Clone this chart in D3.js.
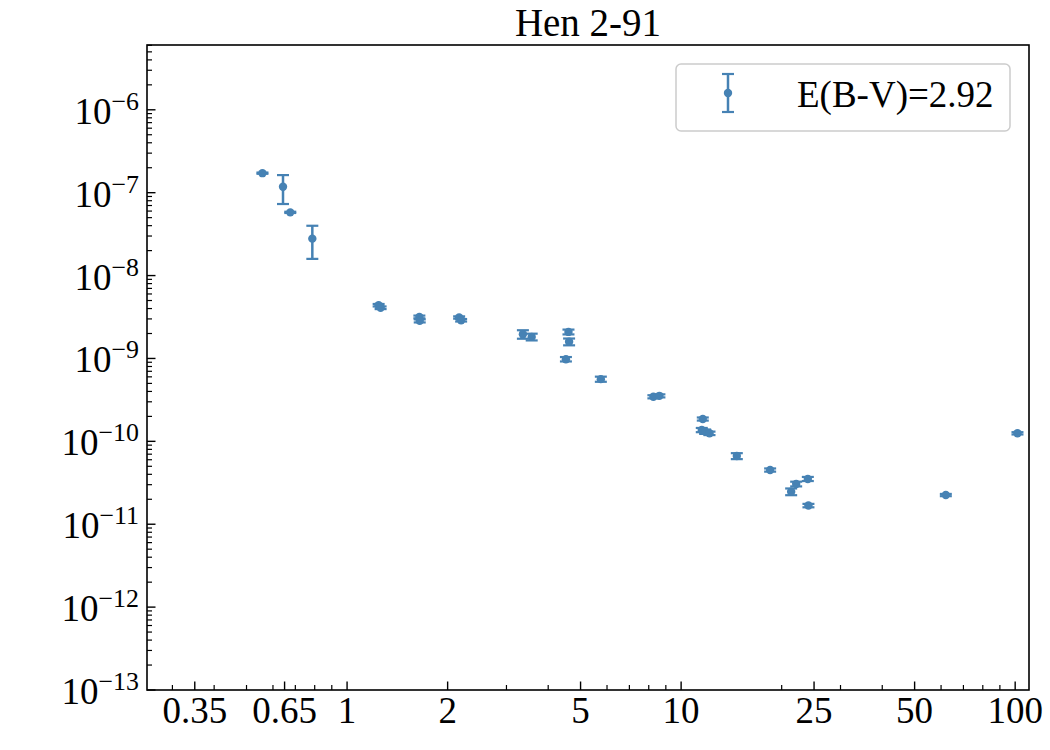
<!DOCTYPE html>
<html>
<head>
<meta charset="utf-8">
<script src="https://cdn.jsdelivr.net/npm/d3@7"></script>
<style>
  body { margin: 0; background: #fff; }
  text { font-family: 'Liberation Serif', 'DejaVu Serif', serif; fill: #000; }
</style>
</head>
<body>
<svg id="chart"></svg>
<script>
    // wavelength in micron, flux with 1-sigma errors
    var wavelength = [0.558, 0.643, 0.676, 0.787, 1.243, 1.26, 1.646, 1.65, 2.165, 2.195,
        3.36, 3.57, 4.60, 4.62, 4.52, 5.75, 8.26, 8.61, 11.61, 11.53,
        11.8, 12.16, 14.68, 18.47, 23.95, 22.1, 21.35, 24.05, 62.0, 101.6];
    var flux = [1.72e-7, 1.18e-7, 5.79e-8, 2.79e-8, 4.39e-9, 4.09e-9, 3.17e-9, 2.84e-9, 3.12e-9, 2.89e-9,
        1.96e-9, 1.82e-9, 2.09e-9, 1.59e-9, 9.8e-10, 5.63e-10, 3.45e-10, 3.54e-10, 1.86e-10, 1.37e-10,
        1.31e-10, 1.25e-10, 6.65e-11, 4.51e-11, 3.52e-11, 3.06e-11, 2.47e-11, 1.68e-11, 2.25e-11, 1.25e-10];
    var fluxErr = [0.03e-7, 4.5e-8, 0.1e-8, 1.2e-8, 0.15e-9, 0.15e-9, 0.12e-9, 0.12e-9, 0.1e-9, 0.1e-9,
        0.23e-9, 0.17e-9, 0.14e-9, 0.15e-9, 0.6e-10, 0.4e-10, 0.15e-10, 0.15e-10, 0.08e-10, 0.08e-10,
        0.08e-10, 0.06e-10, 0.55e-11, 0.2e-11, 0.2e-11, 0.2e-11, 0.23e-11, 0.08e-11, 0.07e-11, 0.04e-10];

    var xTickValues = [0.35, 0.65, 1, 2, 5, 10, 25, 50, 100];
    var xTickLabels = ['0.35', '0.65', '1', '2', '5', '10', '25', '50', '100'];
    var yTickExponents = [-13, -12, -11, -10, -9, -8, -7, -6];

    var title = 'Hen 2-91';
    var legendLabel = 'E(B-V)=2.92';

    var width = 1050, height = 750;
    var plotLeft = 147, plotRight = 1029, plotTop = 45, plotBottom = 690;
    var color = '#4682b4';
    var fontSize = 37;
    var capHalf = 6;

    var svg = d3.select('#chart')
        .attr('width', width)
        .attr('height', height);

    var scaleX = d3.scaleLog()
        .domain([0.2518, 110])
        .range([plotLeft, plotRight]);

    var scaleY = d3.scaleLog()
        .domain([1e-13, 6.05e-6])
        .range([plotBottom, plotTop]);

    // minor ticks
    var xMinor = [];
    [0.1, 1, 10, 100].forEach(function (base) {
        for (var k = 1; k < 10; k++) {
            var v = base * k;
            if (v >= scaleX.domain()[0] && v <= scaleX.domain()[1] && xTickValues.indexOf(+v.toPrecision(6)) < 0) xMinor.push(v);
        }
    });
    var yMinor = [];
    for (var e = -13; e <= -6; e++) {
        for (var k = 2; k < 10; k++) {
            var v = k * Math.pow(10, e);
            if (v <= scaleY.domain()[1]) yMinor.push(v);
        }
    }

    var axes = svg.append('g').attr('class', 'axes');

    axes.selectAll('line.xminor')
        .data(xMinor)
        .enter().append('line')
        .attr('x1', function (d) { return scaleX(d); })
        .attr('x2', function (d) { return scaleX(d); })
        .attr('y1', plotBottom)
        .attr('y2', plotBottom - 5)
        .attr('stroke', '#000')
        .attr('stroke-width', 1.2);

    axes.selectAll('line.xmajor')
        .data(xTickValues)
        .enter().append('line')
        .attr('x1', function (d) { return scaleX(d); })
        .attr('x2', function (d) { return scaleX(d); })
        .attr('y1', plotBottom)
        .attr('y2', plotBottom - 8.5)
        .attr('stroke', '#000')
        .attr('stroke-width', 1.4);

    axes.selectAll('text.xlabel')
        .data(xTickValues)
        .enter().append('text')
        .attr('x', function (d) { return scaleX(d); })
        .attr('y', plotBottom + 33)
        .attr('text-anchor', 'middle')
        .attr('font-size', fontSize)
        .text(function (d, i) { return xTickLabels[i]; });

    axes.selectAll('line.yminor')
        .data(yMinor)
        .enter().append('line')
        .attr('x1', plotLeft)
        .attr('x2', plotLeft + 5)
        .attr('y1', function (d) { return scaleY(d); })
        .attr('y2', function (d) { return scaleY(d); })
        .attr('stroke', '#000')
        .attr('stroke-width', 1.2);

    axes.selectAll('line.ymajor')
        .data(yTickExponents)
        .enter().append('line')
        .attr('x1', plotLeft)
        .attr('x2', plotLeft + 8.5)
        .attr('y1', function (d) { return scaleY(Math.pow(10, d)); })
        .attr('y2', function (d) { return scaleY(Math.pow(10, d)); })
        .attr('stroke', '#000')
        .attr('stroke-width', 1.4);

    var ylab = axes.selectAll('text.ylabel')
        .data(yTickExponents)
        .enter().append('text')
        .attr('x', plotLeft - 8)
        .attr('y', function (d) { return scaleY(Math.pow(10, d)) + 14; })
        .attr('text-anchor', 'end')
        .attr('font-size', fontSize);
    ylab.append('tspan').text('10');
    ylab.append('tspan')
        .attr('font-size', fontSize * 0.7)
        .attr('dy', -14)
        .text(function (d) { return '\u2212' + Math.abs(d); });

    // spines
    axes.append('rect')
        .attr('x', plotLeft)
        .attr('y', plotTop)
        .attr('width', plotRight - plotLeft)
        .attr('height', plotBottom - plotTop)
        .attr('fill', 'none')
        .attr('stroke', '#000')
        .attr('stroke-width', 1.6);

    // error bars and points
    var points = d3.range(wavelength.length);
    var marks = svg.append('g').attr('class', 'data');

    marks.selectAll('line.bar')
        .data(points)
        .enter().append('line')
        .attr('x1', function (i) { return scaleX(wavelength[i]); })
        .attr('x2', function (i) { return scaleX(wavelength[i]); })
        .attr('y1', function (i) { return scaleY(flux[i] + fluxErr[i]); })
        .attr('y2', function (i) { return scaleY(flux[i] - fluxErr[i]); })
        .attr('stroke', color)
        .attr('stroke-width', 2.5);

    [1, -1].forEach(function (sign) {
        marks.selectAll('line.cap' + (sign > 0 ? 'up' : 'down'))
            .data(points)
            .enter().append('line')
            .attr('x1', function (i) { return scaleX(wavelength[i]) - capHalf; })
            .attr('x2', function (i) { return scaleX(wavelength[i]) + capHalf; })
            .attr('y1', function (i) { return scaleY(flux[i] + sign * fluxErr[i]); })
            .attr('y2', function (i) { return scaleY(flux[i] + sign * fluxErr[i]); })
            .attr('stroke', color)
            .attr('stroke-width', 2.2);
    });

    marks.selectAll('circle')
        .data(points)
        .enter().append('circle')
        .attr('cx', function (i) { return scaleX(wavelength[i]); })
        .attr('cy', function (i) { return scaleY(flux[i]); })
        .attr('r', 4.2)
        .attr('fill', color);

    // title
    svg.append('text')
        .attr('x', (plotLeft + plotRight) / 2)
        .attr('y', 36)
        .attr('text-anchor', 'middle')
        .attr('font-size', 39)
        .text(title);

    // legend
    var legend = svg.append('g').attr('class', 'legend');
    legend.append('rect')
        .attr('x', 676)
        .attr('y', 64)
        .attr('width', 334)
        .attr('height', 67)
        .attr('rx', 5)
        .attr('fill', '#fff')
        .attr('stroke', '#cccccc')
        .attr('stroke-width', 1.5);
    var lx = 728, ly = 93;
    legend.append('line')
        .attr('x1', lx).attr('x2', lx)
        .attr('y1', ly - 19).attr('y2', ly + 19)
        .attr('stroke', color).attr('stroke-width', 2.5);
    [-19, 19].forEach(function (off) {
        legend.append('line')
            .attr('x1', lx - capHalf).attr('x2', lx + capHalf)
            .attr('y1', ly + off).attr('y2', ly + off)
            .attr('stroke', color).attr('stroke-width', 2.2);
    });
    legend.append('circle')
        .attr('cx', lx).attr('cy', ly).attr('r', 4.2)
        .attr('fill', color);
    legend.append('text')
        .attr('x', 797)
        .attr('y', 107)
        .attr('font-size', fontSize)
        .text(legendLabel);
</script>
</body>
</html>
